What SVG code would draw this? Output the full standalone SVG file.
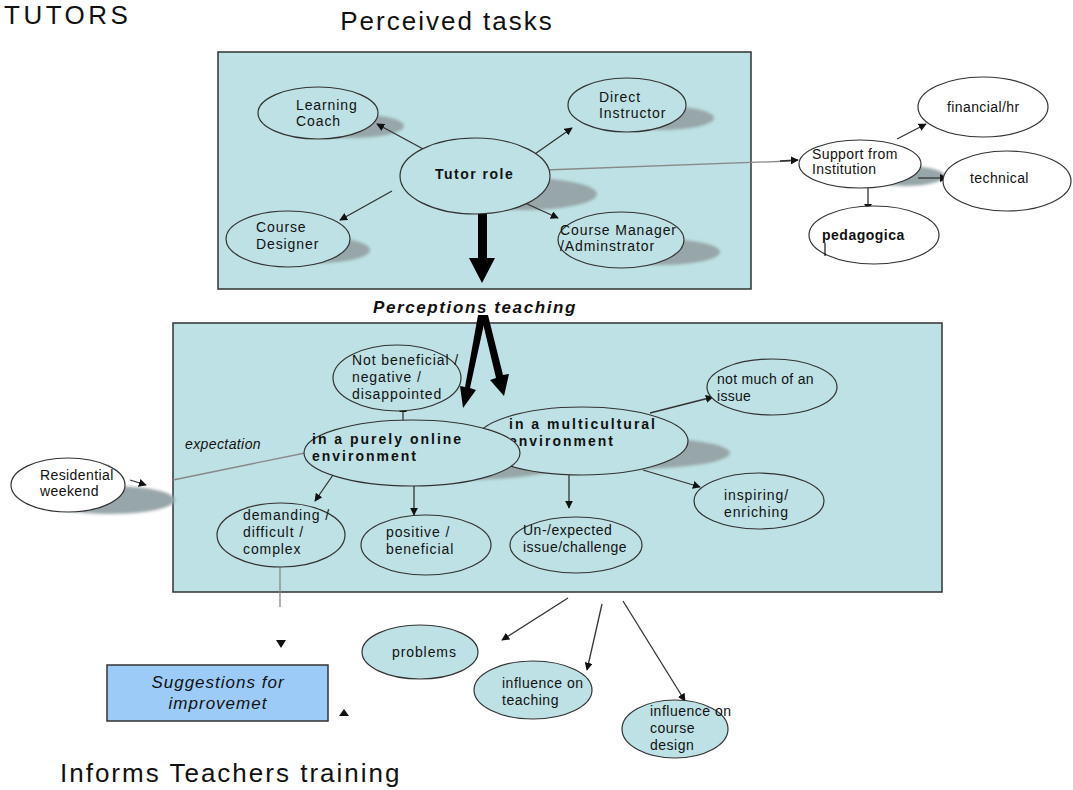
<svg xmlns="http://www.w3.org/2000/svg" width="1073" height="790" viewBox="0 0 1073 790">
  <style>
    .frame { fill: #bde1e4; stroke: #333; stroke-width: 1.5; }
    .node { fill: #bde1e4; stroke: #333; stroke-width: 1.2; }
    .wnode { fill: #fff; stroke: #333; stroke-width: 1.2; }
    .shadow { fill: #97a6a8; filter: url(#soft); }
    .t { font-family: "Liberation Sans", Arial, sans-serif; font-size: 14px; fill: #111; letter-spacing: 0.9px; }
    .b { font-weight: bold; letter-spacing: 2px; }
    .i { font-style: italic; }
    .title { font-family: "Liberation Sans", Arial, sans-serif; font-size: 26px; fill: #111; letter-spacing: 2px; }
    .edge { stroke: #333; stroke-width: 1.3; fill: none; marker-end: url(#arr); }
    .grey { stroke: #888; stroke-width: 1.3; fill: none; }
    .thick { fill: #000; }
  </style>
  <defs>
    <filter id="soft" x="-20%" y="-50%" width="140%" height="200%">
      <feGaussianBlur stdDeviation="1.5"/>
    </filter>
    <marker id="arr" viewBox="0 0 10 10" refX="9" refY="5" markerWidth="8" markerHeight="8" orient="auto" markerUnits="userSpaceOnUse">
      <path d="M0,0 L10,5 L0,10 z" fill="#111"/>
    </marker>
  </defs>

  <!-- headings -->
  <text class="title" x="4" y="24" style="letter-spacing:3.5px">TUTORS</text>
  <text class="title" x="447" y="30" text-anchor="middle">Perceived tasks</text>
  <text class="t b i" x="475" y="313" text-anchor="middle" style="font-size:17px;letter-spacing:1.6px">Perceptions teaching</text>
  <text class="title" x="60" y="782">Informs Teachers training</text>

  <!-- frames -->
  <rect class="frame" x="218" y="52" width="533" height="237"/>
  <rect class="frame" x="173" y="323" width="769" height="269"/>

  <!-- shadows -->
  <g id="shadows">
    <ellipse class="shadow" cx="352" cy="126" rx="52" ry="12"/>
    <ellipse class="shadow" cx="662" cy="118" rx="52" ry="12"/>
    <ellipse class="shadow" cx="525" cy="194" rx="72" ry="16"/>
    <ellipse class="shadow" cx="318" cy="250" rx="52" ry="13"/>
    <ellipse class="shadow" cx="660" cy="252" rx="60" ry="13"/>
    <ellipse class="shadow" cx="630" cy="453" rx="100" ry="16"/>
    <ellipse class="shadow" cx="460" cy="465" rx="100" ry="15"/>
    <ellipse class="shadow" cx="110" cy="500" rx="65" ry="14"/>
    <ellipse class="shadow" cx="905" cy="176" rx="40" ry="10"/>
  </g>

  <!-- connectors -->
  <g id="connectors">
    <line class="edge" x1="425" y1="150" x2="377" y2="124"/>
    <line class="edge" x1="532" y1="156" x2="572" y2="128"/>
    <line class="edge" x1="392" y1="191" x2="340" y2="220"/>
    <line class="edge" x1="525" y1="203" x2="558" y2="218"/>
    <line class="grey" x1="545" y1="170" x2="790" y2="161"/>
    <line class="edge" x1="780" y1="161" x2="798" y2="160" stroke="#888"/>
    <line class="edge" x1="897" y1="139" x2="926" y2="124"/>
    <line class="edge" x1="918" y1="178" x2="947" y2="178"/>
    <line class="edge" x1="868" y1="188" x2="868" y2="211"/>

    <!-- heavy arrows -->
    <polygon class="thick" points="478,214 487,214 487,258 495,258 482,283 469,258 478,258"/>
    <polygon class="thick" points="478,315 486,315 470,388 476,390 463,408 460,386 465,387"/>
    <polygon class="thick" points="481,315 488,315 503,375 509,374 504,396 490,380 496,378"/>

    <line class="edge" x1="403" y1="420" x2="403" y2="405"/>
    <line class="edge" x1="333" y1="475" x2="315" y2="501"/>
    <line class="edge" x1="414" y1="486" x2="414" y2="515"/>
    <line class="edge" x1="569" y1="475" x2="569" y2="508"/>
    <line class="edge" x1="650" y1="413" x2="713" y2="397"/>
    <line class="edge" x1="643" y1="470" x2="700" y2="487"/>

    <line class="grey" x1="305" y1="453" x2="173" y2="480"/>
    <line class="edge" x1="130" y1="480" x2="146" y2="485"/>

    <line class="grey" x1="280" y1="556" x2="280" y2="607"/>
    <path d="M276,640 L286,640 L281,648 z" fill="#111"/>
    <path d="M339,716 L349,716 L344,709 z" fill="#111"/>

    <line class="edge" x1="568" y1="598" x2="502" y2="640"/>
    <line class="edge" x1="602" y1="604" x2="587" y2="670"/>
    <line class="edge" x1="623" y1="601" x2="685" y2="701"/>
  </g>

  <!-- top group nodes -->
  <g id="learning-coach">
    <ellipse class="node" cx="318" cy="113" rx="60" ry="26"/>
    <text class="t" x="296" y="110">Learning</text>
    <text class="t" x="296" y="126">Coach</text>
  </g>
  <g id="direct-instructor">
    <ellipse class="node" cx="627" cy="105" rx="59" ry="27"/>
    <text class="t" x="599" y="102">Direct</text>
    <text class="t" x="599" y="118">Instructor</text>
  </g>
  <g id="tutor-role">
    <ellipse class="node" cx="475" cy="176" rx="75" ry="38"/>
    <text class="t b" x="435" y="179" style="letter-spacing:1.5px">Tutor role</text>
  </g>
  <g id="course-designer">
    <ellipse class="node" cx="288" cy="239" rx="62" ry="28"/>
    <text class="t" x="256" y="232">Course</text>
    <text class="t" x="256" y="249">Designer</text>
  </g>
  <g id="course-manager">
    <ellipse class="node" cx="621" cy="240" rx="63" ry="28"/>
    <text class="t" x="560" y="235">Course Manager</text>
    <text class="t" x="560" y="251">/Adminstrator</text>
  </g>

  <!-- institutional support -->
  <g id="support">
    <ellipse class="wnode" cx="860" cy="164" rx="61" ry="24"/>
    <text class="t" x="812" y="159" style="letter-spacing:0.4px">Support from</text>
    <text class="t" x="812" y="174" style="letter-spacing:0.4px">Institution</text>
  </g>
  <g id="financial">
    <ellipse class="wnode" cx="983" cy="107" rx="65" ry="30"/>
    <text class="t" x="947" y="112" style="letter-spacing:0.4px">financial/hr</text>
  </g>
  <g id="technical">
    <ellipse class="wnode" cx="1007" cy="181" rx="64" ry="30"/>
    <text class="t" x="970" y="183" style="letter-spacing:0.4px">technical</text>
  </g>
  <g id="pedagogical">
    <ellipse class="wnode" cx="874" cy="235" rx="65" ry="29"/>
    <text class="t" x="822" y="240" style="font-weight:bold;letter-spacing:0.5px">pedagogica</text>
    <line x1="825" y1="243" x2="825" y2="256" stroke="#111" stroke-width="1.2"/>
  </g>

  <!-- lower group nodes -->
  <g id="not-beneficial">
    <ellipse class="node" cx="397" cy="378" rx="64" ry="33"/>
    <text class="t" x="352" y="365">Not beneficial /</text>
    <text class="t" x="352" y="382">negative /</text>
    <text class="t" x="352" y="399">disappointed</text>
  </g>
  <g id="multicultural">
    <ellipse class="node" cx="582" cy="441" rx="106" ry="34"/>
    <text class="t b" x="509" y="429">in a multicultural</text>
    <text class="t b" x="509" y="446">environment</text>
  </g>
  <g id="purely-online">
    <ellipse class="node" cx="412" cy="453" rx="108" ry="33"/>
    <text class="t b" x="312" y="444">in a purely online</text>
    <text class="t b" x="312" y="461">environment</text>
  </g>
  <g id="not-much">
    <ellipse class="node" cx="772" cy="387" rx="65" ry="28"/>
    <text class="t" x="717" y="384" style="letter-spacing:0.3px">not much of an</text>
    <text class="t" x="717" y="401" style="letter-spacing:0.3px">issue</text>
  </g>
  <g id="inspiring">
    <ellipse class="node" cx="759" cy="501" rx="65" ry="28"/>
    <text class="t" x="724" y="500">inspiring/</text>
    <text class="t" x="724" y="517">enriching</text>
  </g>
  <g id="demanding">
    <ellipse class="node" cx="281" cy="535" rx="64" ry="32"/>
    <text class="t" x="243" y="520">demanding /</text>
    <text class="t" x="243" y="537">difficult /</text>
    <text class="t" x="243" y="554">complex</text>
  </g>
  <g id="positive">
    <ellipse class="node" cx="426" cy="545" rx="65" ry="30"/>
    <text class="t" x="386" y="537">positive /</text>
    <text class="t" x="386" y="554">beneficial</text>
  </g>
  <g id="unexpected">
    <ellipse class="node" cx="576" cy="545" rx="66" ry="28"/>
    <text class="t" x="523" y="535" style="letter-spacing:0.5px">Un-/expected</text>
    <text class="t" x="523" y="552" style="letter-spacing:0.5px">issue/challenge</text>
  </g>
  <g id="residential">
    <ellipse class="wnode" cx="68" cy="485" rx="57" ry="27"/>
    <text class="t" x="40" y="480" style="letter-spacing:0.4px">Residential</text>
    <text class="t" x="40" y="496" style="letter-spacing:0.4px">weekend</text>
  </g>
  <text class="t i" x="185" y="449" style="letter-spacing:0.4px">expectation</text>

  <!-- outcomes -->
  <g id="suggestions">
    <rect x="107" y="665" width="221" height="56" fill="#9ccbf7" stroke="#333" stroke-width="1.5"/>
    <text class="t i" x="218" y="688" text-anchor="middle" style="font-size:17px;letter-spacing:1px">Suggestions for</text>
    <text class="t i" x="218" y="709" text-anchor="middle" style="font-size:17px;letter-spacing:1px">improvemet</text>
  </g>
  <g id="problems">
    <ellipse class="node" cx="420" cy="652" rx="58" ry="27"/>
    <text class="t" x="392" y="657">problems</text>
  </g>
  <g id="influence-teaching">
    <ellipse class="node" cx="533" cy="690" rx="59" ry="29"/>
    <text class="t" x="502" y="688" style="letter-spacing:0.5px">influence on</text>
    <text class="t" x="502" y="705" style="letter-spacing:0.5px">teaching</text>
  </g>
  <g id="influence-design">
    <ellipse class="node" cx="675" cy="729" rx="53" ry="29"/>
    <text class="t" x="650" y="716" style="letter-spacing:0.5px">influence on</text>
    <text class="t" x="650" y="733" style="letter-spacing:0.5px">course</text>
    <text class="t" x="650" y="750" style="letter-spacing:0.5px">design</text>
  </g>
</svg>
